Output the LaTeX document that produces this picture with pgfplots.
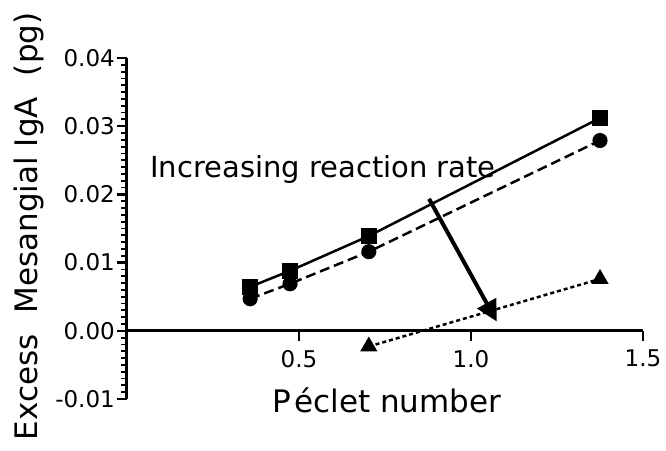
\documentclass[border=0pt]{standalone}
\usepackage{fontspec}
\setmainfont{DejaVu Sans}
\usepackage{pgfplots}
\pgfplotsset{compat=1.18}
\usetikzlibrary{arrows.meta}
\begin{document}
\begin{tikzpicture}[x=1pt,y=1pt]
\useasboundingbox (0,0) rectangle (666,450);
\begin{axis}[
  at={(127pt,51pt)}, anchor=south west,
  scale only axis, width=516pt, height=341pt,
  xmin=0, xmax=1.5, ymin=-0.01, ymax=0.04,
  axis x line*=middle, axis y line*=left,
  axis line style={line width=3pt, black},
  xtick={0.5,1,1.5}, xticklabels={0.5,1.0,1.5},
  ytick={-0.01,0,0.01,0.02,0.03,0.04},
  yticklabels={-0.01,0.00,0.01,0.02,0.03,0.04},
  scaled y ticks=false,
  minor y tick num=9,
  tick align=outside,
  major tick length=10pt, minor tick length=6pt,
  major tick style={line width=2.5pt, black},
  minor tick style={line width=1.8pt, black},
  x tick label style={font=\fontsize{23}{23}\selectfont, inner sep=2pt, yshift=-7pt},
  y tick label style={font=\fontsize{23}{23}\selectfont, inner sep=2pt},
  every axis x label/.style={at={(axis description cs:0.504,-0.041)}, anchor=base},
  every axis y label/.style={at={(axis description cs:-0.1744,0.506)}, rotate=90, anchor=base},
  xlabel={P\hspace{3pt}\'eclet number},
  ylabel={Excess\hspace{21pt}Mesangial IgA\hspace{21pt}(pg)},
  label style={font=\fontsize{31}{31}\selectfont},
  clip=false,
]
\addplot[black, line width=2.5pt, mark=square*, mark size=6.5pt, mark options={solid}]
  coordinates {(0.358,0.00645) (0.474,0.0088) (0.703,0.0139) (1.375,0.0312)};
\addplot[black, line width=2.5pt, dash pattern=on 10pt off 5pt, mark=*, mark size=6.3pt, mark options={solid}]
  coordinates {(0.358,0.0047) (0.474,0.0069) (0.703,0.0116) (1.375,0.0279)};
\addplot[black, line width=2.5pt, dash pattern=on 4pt off 3pt, mark=triangle*, mark size=7.5pt, mark options={solid}]
  coordinates {(0.703,-0.0023) (1.375,0.0076)};
\draw[line width=4pt, -{Triangle[length=21pt,width=21pt]}] (axis cs:0.878,0.01935) -- (axis cs:1.075,0.00136);
\node[anchor=base west, font=\fontsize{29}{29}\selectfont, inner sep=0pt] at (axis cs:0.0669,0.02243) {Increasing reaction rate};
\end{axis}
\end{tikzpicture}
\end{document}
